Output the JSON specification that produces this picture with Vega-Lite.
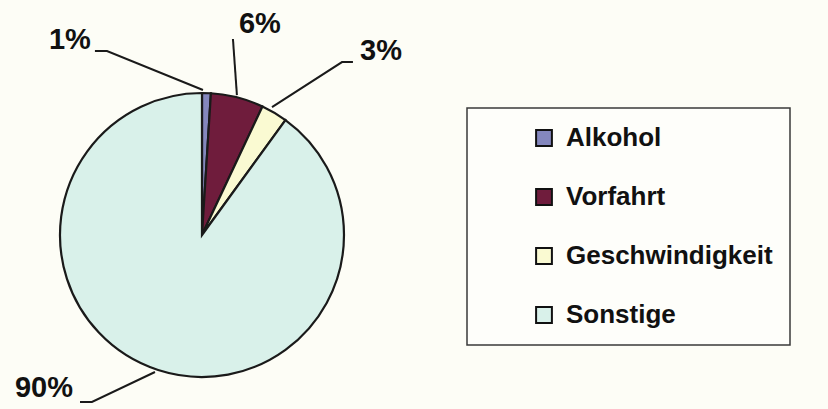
{
  "$schema": "https://vega.github.io/schema/vega-lite/v6.json",
  "width": 828,
  "height": 409,
  "autosize": {"type": "fit", "contains": "padding"},
  "padding": 0,
  "background": "#fdfdf6",
  "config": {"view": {"stroke": null}},
  "datasets": {
    "slices": [
      {"cause": "Alkohol", "share": 1, "rank": 1},
      {"cause": "Vorfahrt", "share": 6, "rank": 2},
      {"cause": "Geschwindigkeit", "share": 3, "rank": 3},
      {"cause": "Sonstige", "share": 90, "rank": 4}
    ],
    "leaders": [
      {"label": "1%", "seq": 1, "x": -0.754, "y": 1.296},
      {"label": "1%", "seq": 2, "x": -0.669, "y": 1.296},
      {"label": "1%", "seq": 3, "x": 0.007, "y": 1.021},
      {"label": "6%", "seq": 1, "x": 0.218, "y": 1.38},
      {"label": "6%", "seq": 2, "x": 0.246, "y": 0.985},
      {"label": "3%", "seq": 1, "x": 1.063, "y": 1.218},
      {"label": "3%", "seq": 2, "x": 0.986, "y": 1.218},
      {"label": "3%", "seq": 3, "x": 0.493, "y": 0.901},
      {"label": "90%", "seq": 1, "x": -0.859, "y": -1.176},
      {"label": "90%", "seq": 2, "x": -0.775, "y": -1.176},
      {"label": "90%", "seq": 3, "x": -0.331, "y": -0.965}
    ],
    "labels": [
      {"label": "1%", "x": -0.93, "y": 1.373},
      {"label": "6%", "x": 0.408, "y": 1.489},
      {"label": "3%", "x": 1.261, "y": 1.299},
      {"label": "90%", "x": -1.113, "y": -1.081}
    ]
  },
  "layer": [
    {
      "data": {"name": "slices"},
      "mark": {"type": "arc", "outerRadius": 142, "stroke": "#1a1a1a", "strokeWidth": 2.2},
      "encoding": {
        "x": {"datum": 0, "type": "quantitative", "scale": {"domain": [-1.4225, 4.4085], "nice": false, "zero": false}, "axis": null},
        "y": {"datum": 0, "type": "quantitative", "scale": {"domain": [-1.2254, 1.6549], "nice": false, "zero": false}, "axis": null},
        "theta": {"field": "share", "type": "quantitative", "stack": true},
        "order": {"field": "rank", "type": "quantitative"},
        "color": {
          "field": "cause",
          "type": "nominal",
          "sort": ["Alkohol", "Vorfahrt", "Geschwindigkeit", "Sonstige"],
          "scale": {
            "domain": ["Alkohol", "Vorfahrt", "Geschwindigkeit", "Sonstige"],
            "range": ["#8487bd", "#6f1c3c", "#fafad2", "#d9f1ea"]
          },
          "legend": {
            "title": null,
            "orient": "none",
            "legendX": 467,
            "legendY": 108,
            "padding": 17,
            "strokeColor": "#3a3a3a",
            "fillColor": "#fefefa",
            "symbolType": "square",
            "symbolSize": 250,
            "symbolStrokeColor": "#111111",
            "symbolStrokeWidth": 2,
            "symbolOffset": 47,
            "labelOffset": 9,
            "labelFont": "Liberation Sans",
            "labelFontWeight": "bold",
            "labelFontSize": 26,
            "labelColor": "#111111",
            "labelLimit": 400,
            "rowPadding": 33,
            "encode": {"legend": {"update": {"strokeWidth": {"value": 1.5}}}}
          }
        }
      }
    },
    {
      "data": {"name": "leaders"},
      "mark": {"type": "line", "stroke": "#1a1a1a", "strokeWidth": 2},
      "encoding": {
        "x": {"field": "x", "type": "quantitative"},
        "y": {"field": "y", "type": "quantitative"},
        "detail": {"field": "label"},
        "order": {"field": "seq"}
      }
    },
    {
      "data": {"name": "labels"},
      "mark": {"type": "text", "font": "Liberation Sans", "fontWeight": "bold", "fontSize": 29, "color": "#111111", "align": "center", "baseline": "middle"},
      "encoding": {
        "x": {"field": "x", "type": "quantitative"},
        "y": {"field": "y", "type": "quantitative"},
        "text": {"field": "label"}
      }
    }
  ]
}
